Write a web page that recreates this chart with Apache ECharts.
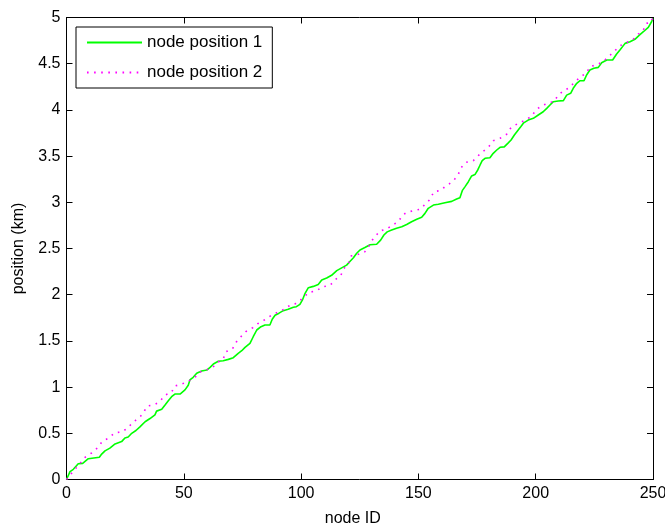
<!DOCTYPE html>
<html>
<head>
<meta charset="utf-8">
<script src="https://cdn.jsdelivr.net/npm/echarts@6/dist/echarts.min.js"></script>
<style>
  html, body { margin: 0; padding: 0; background: #fff; }
  #chart { width: 665px; height: 524px; }
</style>
</head>
<body>
<div id="chart"></div>
<script>
// Node position 1: node ID vs. position (km)
const nodeIds1 = [0, 1.5, 2.9, 5, 6.9, 9.3, 14, 15, 16.4, 18.5, 20.7, 23.5, 24.9, 26.3, 27.8, 29.6, 31.3, 33.5, 35.6, 37.7,
  38.4, 40.6, 42, 43.4, 44.8, 46.2, 48.4, 50.5, 51.9, 52.6, 54, 55.5, 57.6, 59.8, 61.2, 62.6, 64.7, 66.8, 69, 71.1,
  73.2, 74.7, 76.1, 78.2, 79.6, 81.1, 82.9, 84.6, 86.7, 87.7, 88.9, 90.6, 92.4, 94.5, 96.7, 98, 99.5, 100.7, 101.7, 103.1,
  105.2, 107.3, 108.8, 110.9, 113, 115.2, 117.3, 119.4, 120.8, 122.3, 123.7, 125.1, 127.2, 129.4, 132.2, 133.9, 135.3, 136.7, 138.6, 140.7,
  142.9, 145, 147.1, 149.3, 151.4, 152.8, 154.2, 156.4, 158.5, 161.3, 164.2, 166.3, 167.7, 168.7, 169.9, 171.3, 172.7, 174.1, 175.3, 176.3,
  177.2, 178.4, 180.5, 181.9, 183.4, 184.8, 186.6, 188.1, 189.5, 190.9, 192.3, 193.7, 194.9, 196.8, 199, 201.1, 203.2, 204.7, 206.1, 207.5,
  209.6, 211.8, 213.2, 214.9, 216, 217.5, 218.9, 220.6, 221.7, 223.1, 224.8, 226.7, 228.1, 230.3, 232.8, 234.5, 235.9, 238.1, 240.2, 242.3,
  244.2, 245.9, 248, 249.4, 250];
const nodePos1 = [0, 0.085, 0.11, 0.17, 0.175, 0.225, 0.24, 0.275, 0.31, 0.34, 0.385, 0.41, 0.45, 0.46, 0.5, 0.53, 0.57, 0.625, 0.66, 0.7,
  0.74, 0.76, 0.806, 0.853, 0.896, 0.925, 0.925, 0.97, 1.02, 1.077, 1.106, 1.149, 1.174, 1.185, 1.214, 1.25, 1.279, 1.286, 1.3, 1.318,
  1.366, 1.394, 1.43, 1.474, 1.545, 1.618, 1.654, 1.672, 1.672, 1.734, 1.777, 1.8, 1.827, 1.842, 1.864, 1.87, 1.896, 1.95, 2.015, 2.076,
  2.09, 2.11, 2.16, 2.18, 2.21, 2.26, 2.29, 2.32, 2.36, 2.4, 2.448, 2.484, 2.51, 2.54, 2.546, 2.59, 2.646, 2.68, 2.7, 2.72,
  2.736, 2.76, 2.79, 2.816, 2.838, 2.88, 2.935, 2.97, 2.978, 2.996, 3.01, 3.036, 3.05, 3.126, 3.17, 3.223, 3.285, 3.3, 3.35, 3.404,
  3.45, 3.476, 3.483, 3.53, 3.566, 3.595, 3.6, 3.638, 3.674, 3.728, 3.775, 3.82, 3.86, 3.89, 3.909, 3.945, 3.98, 4.017, 4.053, 4.089,
  4.096, 4.1, 4.16, 4.18, 4.234, 4.288, 4.316, 4.316, 4.378, 4.432, 4.45, 4.46, 4.51, 4.54, 4.54, 4.605, 4.648, 4.72, 4.738, 4.764,
  4.81, 4.846, 4.894, 4.954, 4.99];

// Node position 2: node ID vs. position (km)
const nodeIds2 = [0, 2.6, 6, 7.9, 10.7, 13.1, 15.4, 17.8, 20.7, 23.5, 26.3, 28.2, 31, 32.7, 34.4, 37.4, 39.6, 42, 44.8, 46,
  48.8, 51.7, 54.8, 56.9, 59.3, 62.2, 64.4, 66.8, 67.9, 70.7, 72.3, 74.7, 76.4, 79.4, 81.5, 83.9, 86.7, 89.6, 92.8, 95.6,
  98.4, 100.9, 103.5, 106.4, 109.2, 112.3, 114.4, 116.9, 118, 120.3, 121.4, 124.4, 127.2, 129, 130.1, 131.9, 133.6, 136.5, 138.6, 141.4,
  143.3, 145, 147.8, 150.7, 154.9, 156.6, 159.2, 162, 164.9, 167, 168.2, 170.3, 173.4, 175.3, 177.4, 179.8, 181.9, 184.8, 187.6, 189.5,
  192.6, 195.1, 198, 200.4, 202.6, 205.8, 207.8, 209.6, 212, 214.3, 216.5, 219.2, 221.7, 223.1, 225.7, 228.6, 233.4, 235.6, 241.6, 243.7,
  245.6, 247.3, 249, 250];
const nodePos2 = [0, 0.081, 0.18, 0.24, 0.287, 0.34, 0.417, 0.446, 0.507, 0.514, 0.56, 0.619, 0.666, 0.72, 0.795, 0.81, 0.839, 0.914, 0.943, 1.01,
  1.03, 1.06, 1.106, 1.163, 1.185, 1.21, 1.268, 1.304, 1.383, 1.412, 1.485, 1.556, 1.6, 1.643, 1.686, 1.719, 1.766, 1.805, 1.842, 1.892,
  1.907, 1.97, 2.026, 2.04, 2.087, 2.098, 2.16, 2.206, 2.275, 2.346, 2.42, 2.437, 2.466, 2.53, 2.584, 2.638, 2.69, 2.711, 2.747, 2.79,
  2.862, 2.89, 2.91, 2.924, 3.03, 3.115, 3.126, 3.18, 3.23, 3.303, 3.375, 3.433, 3.45, 3.5, 3.548, 3.595, 3.667, 3.693, 3.736, 3.81,
  3.855, 3.883, 3.927, 4.006, 4.045, 4.078, 4.089, 4.16, 4.208, 4.24, 4.298, 4.36, 4.4, 4.467, 4.486, 4.52, 4.63, 4.69, 4.764, 4.82,
  4.85, 4.937, 4.944, 5.0];

const seriesNames = ['node position 1', 'node position 2'];
const xTicks = { min: 0, max: 250, interval: 50 };
const yTicks = { min: 0, max: 5, interval: 0.5 };

const FONT = "'Liberation Sans', Arial, sans-serif";

function pairs(xs, ys) {
  return xs.map((x, i) => [x, ys[i]]);
}

const axisCommon = {
  axisLine: { show: true, onZero: false, lineStyle: { color: '#000', width: 1 } },
  axisTick: { show: true, inside: true, length: 6, lineStyle: { color: '#000', width: 1 } },
  splitLine: { show: false },
  axisLabel: { color: '#000', fontFamily: FONT, fontSize: 16 }
};

const chart = echarts.init(document.getElementById('chart'), null, { renderer: 'canvas' });

chart.setOption({
  animation: false,
  backgroundColor: '#fff',
  grid: { left: 66.5, right: 12, top: 17.5, bottom: 44.5, containLabel: false, outerBoundsMode: 'none' },
  legend: {
    data: seriesNames,
    orient: 'vertical',
    left: 76,
    top: 27,
    itemWidth: 55,
    itemHeight: 14,
    itemGap: 13,
    padding: [7, 10, 7, 10],
    borderColor: '#000',
    borderWidth: 1,
    backgroundColor: '#fff',
    textStyle: { color: '#000', fontFamily: FONT, fontSize: 17 }
  },
  xAxis: [
    Object.assign({}, axisCommon, {
      type: 'value', position: 'bottom',
      min: xTicks.min, max: xTicks.max, interval: xTicks.interval,
      name: 'node ID', nameLocation: 'middle', nameGap: 31,
      nameTextStyle: { color: '#000', fontFamily: FONT, fontSize: 16, padding: [0, 14, 0, 0] },
      axisLabel: { color: '#000', fontFamily: FONT, fontSize: 16, margin: 6 }
    }),
    Object.assign({}, axisCommon, {
      type: 'value', position: 'top',
      min: xTicks.min, max: xTicks.max, interval: xTicks.interval,
      axisLabel: { show: false }
    })
  ],
  yAxis: [
    Object.assign({}, axisCommon, {
      type: 'value', position: 'left',
      min: yTicks.min, max: yTicks.max, interval: yTicks.interval,
      name: 'position (km)', nameLocation: 'middle', nameGap: 40,
      nameTextStyle: { color: '#000', fontFamily: FONT, fontSize: 16 },
      axisLabel: { color: '#000', fontFamily: FONT, fontSize: 16, margin: 6 }
    }),
    Object.assign({}, axisCommon, {
      type: 'value', position: 'right',
      min: yTicks.min, max: yTicks.max, interval: yTicks.interval,
      axisLabel: { show: false }
    })
  ],
  series: [
    {
      name: seriesNames[0],
      type: 'line',
      xAxisIndex: 0, yAxisIndex: 0,
      data: pairs(nodeIds1, nodePos1),
      symbol: 'none',
      lineStyle: { color: '#00ff00', width: 1.6 },
      itemStyle: { color: '#00ff00', opacity: 0 }
    },
    {
      name: seriesNames[1],
      type: 'line',
      xAxisIndex: 0, yAxisIndex: 0,
      data: pairs(nodeIds2, nodePos2),
      symbol: 'none',
      lineStyle: { color: '#ff00ff', width: 1.6, type: [1.6, 5.5] },
      itemStyle: { color: '#ff00ff', opacity: 0 }
    }
  ]
});
</script>
</body>
</html>
